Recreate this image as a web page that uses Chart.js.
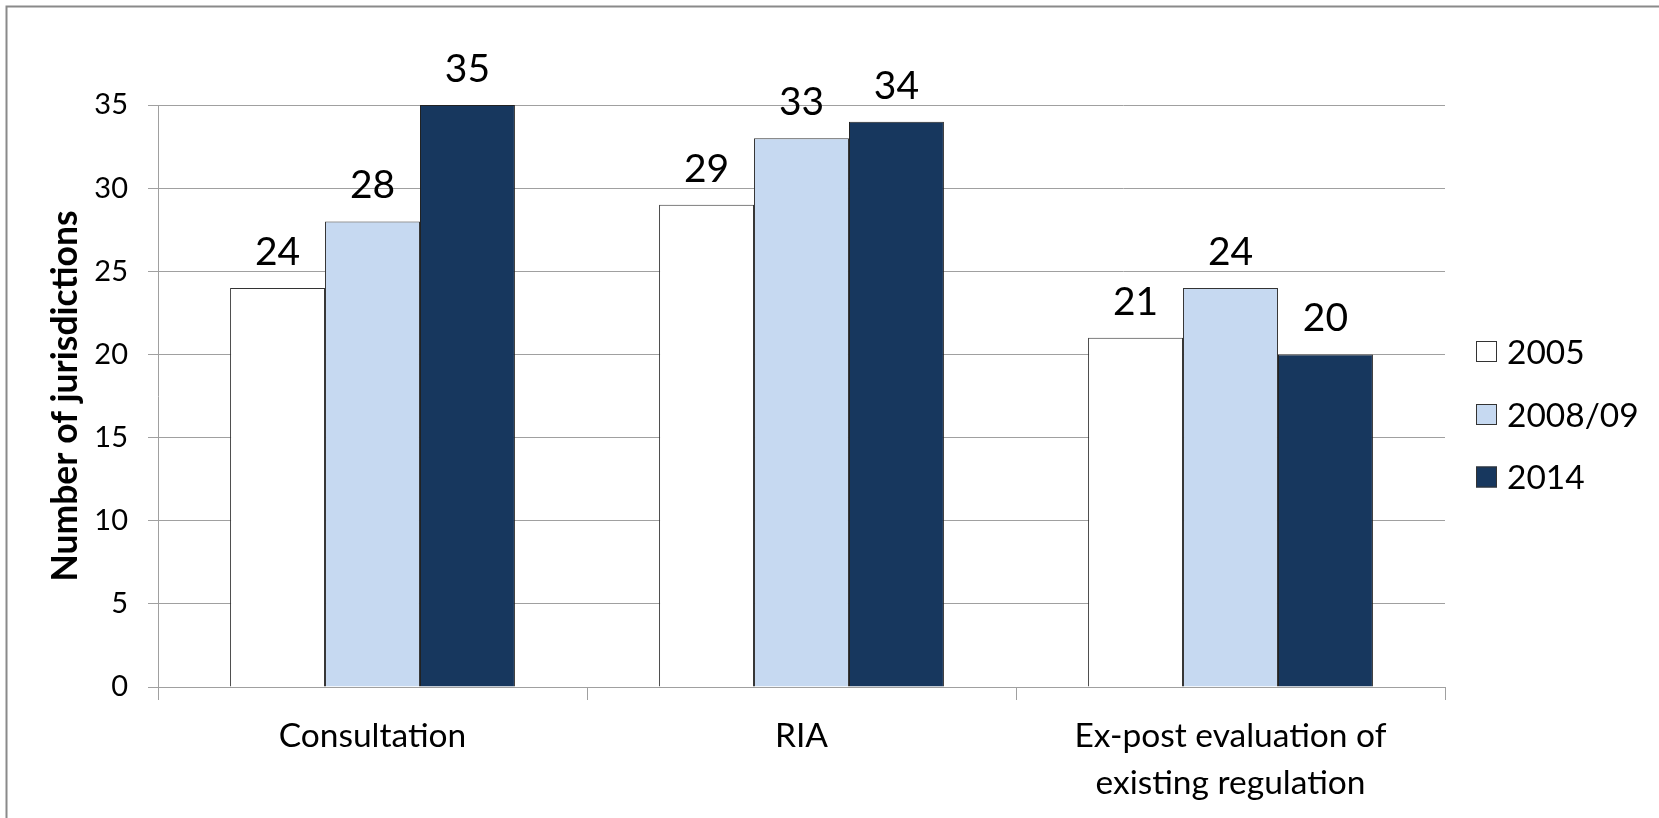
<!DOCTYPE html>
<html>
<head>
<meta charset="utf-8">
<script src="https://cdn.jsdelivr.net/npm/chart.js@4.4.0/dist/chart.umd.min.js"></script>
<style>
  html, body { margin: 0; padding: 0; background: #ffffff; }
  #wrap { width: 1659px; height: 818px; position: relative; }
</style>
</head>
<body>
<div id="wrap"><canvas id="c" width="1659" height="818"></canvas></div>
<script>
const categories = ["Consultation", "RIA", ["Ex-post evaluation of", "existing regulation"]];
const seriesNames = ["2005", "2008/09", "2014"];
const values2005 = [24, 29, 21];
const values2008 = [28, 33, 24];
const values2014 = [35, 34, 20];
const yTicks = [0, 5, 10, 15, 20, 25, 30, 35];
const yTitle = "Number of jurisdictions";

const fills = ["#FFFFFF", "#C6D9F1", "#17375E"];
const FONT = "Lato, 'Open Sans', sans-serif";

const frame = {
  id: 'frame',
  beforeDraw(chart) {
    const ctx = chart.ctx;
    ctx.save();
    ctx.fillStyle = '#ffffff';
    ctx.fillRect(0, 0, chart.width, chart.height);
    ctx.strokeStyle = '#8a8a8a';
    ctx.lineWidth = 2;
    ctx.strokeRect(6.5, 6.5, 3000, 3000);
    ctx.restore();
  }
};

const valueLabels = {
  id: 'valueLabels',
  afterDatasetsDraw(chart) {
    const ctx = chart.ctx;
    ctx.save();
    ctx.font = "39px " + FONT;
    ctx.fillStyle = '#000000';
    ctx.textAlign = 'center';
    ctx.textBaseline = 'alphabetic';
    chart.data.datasets.forEach((ds, i) => {
      const meta = chart.getDatasetMeta(i);
      meta.data.forEach((el, j) => {
        ctx.fillText(String(ds.data[j]), el.x, el.y - 23);
      });
    });
    ctx.restore();
  }
};

const sideLegend = {
  id: 'sideLegend',
  afterDraw(chart) {
    const ctx = chart.ctx;
    ctx.save();
    const boxX = 1476, box = 21, textX = 1507;
    const centers = [351.5, 414.5, 477];
    ctx.font = "33.5px " + FONT;
    ctx.textAlign = 'left';
    ctx.textBaseline = 'alphabetic';
    chart.data.datasets.forEach((ds, i) => {
      const cy = centers[i];
      ctx.fillStyle = ds.backgroundColor;
      ctx.fillRect(boxX, cy - box / 2, box, box);
      ctx.strokeStyle = '#333333';
      ctx.lineWidth = 1;
      ctx.strokeRect(boxX + 0.5, cy - box / 2 + 0.5, box - 1, box - 1);
      ctx.fillStyle = '#000000';
      ctx.fillText(ds.label, textX, cy + 12);
    });
    ctx.restore();
  }
};

new Chart(document.getElementById('c'), {
  type: 'bar',
  data: {
    labels: categories,
    datasets: [
      { label: seriesNames[0], data: values2005, backgroundColor: fills[0], borderColor: '#333333', borderWidth: 1 },
      { label: seriesNames[1], data: values2008, backgroundColor: fills[1], borderColor: '#333333', borderWidth: 1 },
      { label: seriesNames[2], data: values2014, backgroundColor: fills[2], borderColor: '#222222', borderWidth: 1 }
    ]
  },
  options: {
    responsive: false,
    animation: false,
    devicePixelRatio: 1,
    layout: { padding: { left: 40, top: 105, right: 214, bottom: 0 } },
    datasets: { bar: { barPercentage: 1.0, categoryPercentage: 0.664 } },
    plugins: {
      legend: { display: false },
      tooltip: { enabled: false }
    },
    scales: {
      x: {
        grid: { offset: true, drawOnChartArea: false, drawTicks: true, tickLength: 13, color: '#a0a0a0', lineWidth: 1 },
        border: { color: '#a0a0a0', width: 1 },
        ticks: { color: '#000000', padding: 12, font: { family: FONT, size: 33.5, lineHeight: 1.42 }, maxRotation: 0, autoSkip: false },
        afterFit(axis) { axis.height = 131; }
      },
      y: {
        min: 0, max: 35,
        afterBuildTicks(axis) { axis.ticks = yTicks.map(v => ({ value: v })); },
        grid: { color: '#a0a0a0', lineWidth: 1, drawTicks: true, tickLength: 10 },
        border: { color: '#a0a0a0', width: 1 },
        ticks: { color: '#000000', padding: 20, font: { family: FONT, size: 29 } },
        title: { display: true, text: yTitle, color: '#000000', font: { family: FONT, size: 35.5, weight: 'bold', lineHeight: 1.2 }, padding: { top: 4, bottom: 0 } },
        afterFit(axis) { axis.width = 118; }
      }
    }
  },
  plugins: [frame, valueLabels, sideLegend]
});
</script>
</body>
</html>
